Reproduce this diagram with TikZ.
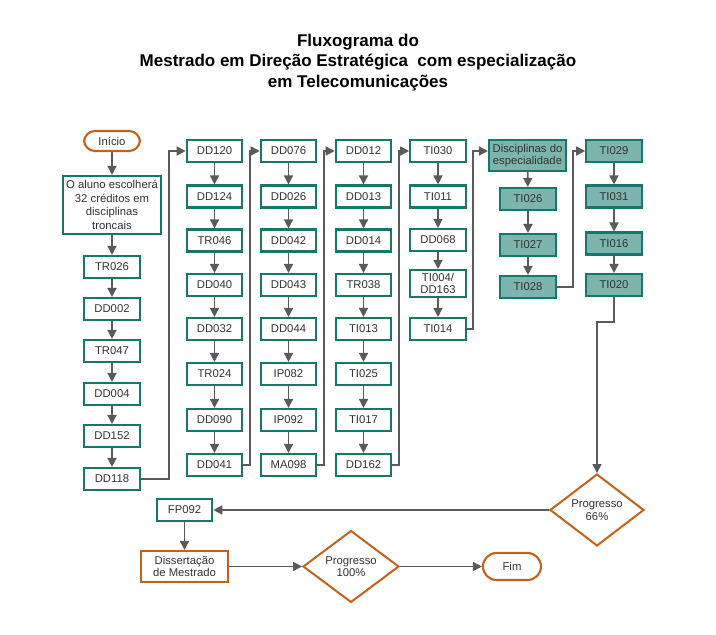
\documentclass[tikz,border=0pt]{standalone}
\usepackage{fontspec}
\setmainfont{Liberation Sans}
\usetikzlibrary{arrows.meta,shapes.geometric}
\definecolor{tealc}{HTML}{18776B}
\definecolor{tealfill}{HTML}{7DB5AE}
\definecolor{orng}{HTML}{C2621B}
\definecolor{arrc}{HTML}{5A5A5A}
\definecolor{txt}{HTML}{333333}
\newcommand{\boxfnt}{\fontsize{11.3}{12.5}\selectfont}
\newcommand{\titfnt}{\fontsize{17}{20}\selectfont\bfseries}
\tikzset{
  cbox/.style={draw=tealc, line width=2.1pt, minimum width=55.5pt, minimum height=22pt, inner sep=1pt, align=center, font=\boxfnt, text=txt},
  sbox/.style={cbox, fill=tealfill},
  obox/.style={cbox, draw=orng},
  term/.style={cbox, draw=orng, rounded corners=11pt},
  dia/.style={diamond, draw=orng, line width=2pt, minimum width=94pt, minimum height=60pt, inner sep=0pt, align=center, font=\boxfnt, text=txt},
  arr/.style={draw=arrc, line width=1.6pt, -{Triangle[length=9pt,width=9pt]}},
  tit/.style={font=\titfnt, text=black, inner sep=0pt}
}
\begin{document}
\begin{tikzpicture}[x=1pt,y=-1pt]
\useasboundingbox[fill=white] (0,0) rectangle (716,635);
% title
\node[tit] (t1) at (358,42) {Fluxograma do};
\node[tit] (t2) at (358,62) {Mestrado em Direção Estratégica\ \ com especialização};
\node[tit] (t3) at (358,83) {em Telecomunicações};
% column 1
\node[term, minimum width=56pt, minimum height=20pt] (ini) at (112,141) {Início};
\node[cbox, minimum width=98pt, minimum height=58pt, font=\fontsize{11.3}{13.5}\selectfont] (alu) at (112,205) {O aluno escolherá\\32 créditos em\\disciplinas\\troncais};
\node[cbox] (a1) at (112,267) {TR026};
\node[cbox] (a2) at (112,309) {DD002};
\node[cbox] (a3) at (112,351) {TR047};
\node[cbox] (a4) at (112,394) {DD004};
\node[cbox] (a5) at (112,436) {DD152};
\node[cbox] (a6) at (112,479) {DD118};
% column 2
\node[cbox] (b1) at (214.5,151) {DD120};
\node[cbox] (b2) at (214.5,196.5) {DD124};
\node[cbox] (b3) at (214.5,240.5) {TR046};
\node[cbox] (b4) at (214.5,285) {DD040};
\node[cbox] (b5) at (214.5,329) {DD032};
\node[cbox] (b6) at (214.5,374) {TR024};
\node[cbox] (b7) at (214.5,420) {DD090};
\node[cbox] (b8) at (214.5,465) {DD041};
% column 3
\node[cbox] (c1) at (288.5,151) {DD076};
\node[cbox] (c2) at (288.5,196.5) {DD026};
\node[cbox] (c3) at (288.5,240.5) {DD042};
\node[cbox] (c4) at (288.5,285) {DD043};
\node[cbox] (c5) at (288.5,329) {DD044};
\node[cbox] (c6) at (288.5,374) {IP082};
\node[cbox] (c7) at (288.5,420) {IP092};
\node[cbox] (c8) at (288.5,465) {MA098};
% column 4
\node[cbox] (d1) at (363.5,151) {DD012};
\node[cbox] (d2) at (363.5,196.5) {DD013};
\node[cbox] (d3) at (363.5,240.5) {DD014};
\node[cbox] (d4) at (363.5,285) {TR038};
\node[cbox] (d5) at (363.5,329) {TI013};
\node[cbox] (d6) at (363.5,374) {TI025};
\node[cbox] (d7) at (363.5,420) {TI017};
\node[cbox] (d8) at (363.5,465) {DD162};
% column 5
\node[cbox] (e1) at (438,151) {TI030};
\node[cbox] (e2) at (438,196.5) {TI011};
\node[cbox] (e3) at (438,240) {DD068};
\node[cbox, minimum height=27pt, inner sep=0pt, font=\fontsize{11.3}{12}\selectfont] (e4) at (438,283.5) {TI004/\\DD163};
\node[cbox] (e5) at (438,329) {TI014};
% column 6
\node[sbox, minimum width=77pt, minimum height=31pt] (f0) at (527.5,155.5) {Disciplinas do\\especialidade};
\node[sbox] (f1) at (528,199) {TI026};
\node[sbox] (f2) at (528,245) {TI027};
\node[sbox] (f3) at (528,287) {TI028};
% column 7
\node[sbox] (g1) at (614,151) {TI029};
\node[sbox] (g2) at (614,196.5) {TI031};
\node[sbox] (g3) at (614,243.5) {TI016};
\node[sbox] (g4) at (614,285) {TI020};
% bottom
\node[dia] (p66) at (597,510) {Progresso\\66\%};
\node[cbox] (fp) at (184.5,510) {FP092};
\node[obox, minimum width=87pt, minimum height=31pt] (dis) at (184.5,566.5) {Dissertação\\de Mestrado};
\node[dia, minimum width=96pt] (p100) at (351,566.5) {Progresso\\100\%};
\node[term, minimum width=58pt, minimum height=27pt, rounded corners=13.5pt] (fim) at (512,566.5) {Fim};
% junction coordinates
\coordinate (j1) at (169,151);
\coordinate (j2) at (250,151);
\coordinate (j3) at (324,151);
\coordinate (j4) at (399,151);
\coordinate (j5) at (473,151);
\coordinate (j6) at (573,151);
\coordinate (j7) at (597,322);
% arrows column 1
\draw[arr] (ini) -- (alu);
\draw[arr] (alu) -- (a1);
\draw[arr] (a1) -- (a2);
\draw[arr] (a2) -- (a3);
\draw[arr] (a3) -- (a4);
\draw[arr] (a4) -- (a5);
\draw[arr] (a5) -- (a6);
\draw[arr] (a6.east) -| (j1) -- (b1.west);
% columns 2-4
\foreach \i/\j in {1/2,2/3,3/4,4/5,5/6,6/7,7/8}{
  \draw[arr] (b\i) -- (b\j);
  \draw[arr] (c\i) -- (c\j);
  \draw[arr] (d\i) -- (d\j);
}
\draw[arr] (b8.east) -| (j2) -- (c1.west);
\draw[arr] (c8.east) -| (j3) -- (d1.west);
\draw[arr] (d8.east) -| (j4) -- (e1.west);
\foreach \i/\j in {1/2,2/3,3/4,4/5}{
  \draw[arr] (e\i) -- (e\j);
}
\draw[arr] (e5.east) -| (j5) -- (j5 -| f0.west);
\draw[arr] (f0) -- (f1);
\draw[arr] (f1) -- (f2);
\draw[arr] (f2) -- (f3);
\draw[arr] (f3.east) -| (j6) -- (g1.west);
\draw[arr] (g1) -- (g2);
\draw[arr] (g2) -- (g3);
\draw[arr] (g3) -- (g4);
\draw[arr] (g4.south) |- (j7) -- (p66.north);
\draw[arr] (p66.west) -- (fp.east);
\draw[arr] (fp) -- (dis);
\draw[arr] (dis.east) -- (p100.west);
\draw[arr] (p100.east) -- (fim.west);
\end{tikzpicture}
\end{document}
